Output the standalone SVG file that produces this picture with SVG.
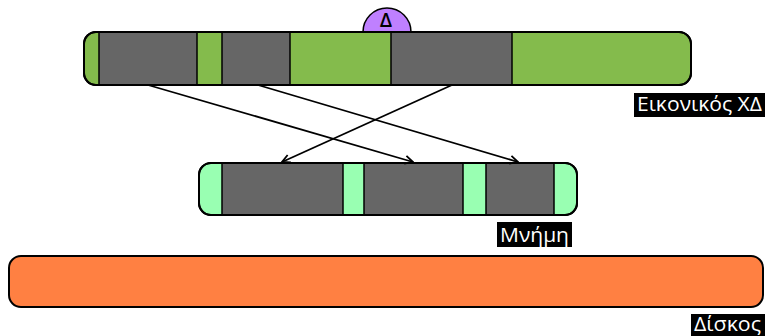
<svg xmlns="http://www.w3.org/2000/svg" width="765" height="336" viewBox="0 0 765 336">
<defs>
<style>
.bar{stroke:#000;stroke-width:2}
.seg{fill:#666666;stroke:#000;stroke-width:1.5}
.lbl{fill:#000}
.lt{fill:#fff;font-family:"Open Sans","DejaVu Sans",sans-serif;font-size:20px}
.conn{stroke:#000;stroke-width:1.8;fill:none;marker-end:url(#arr)}
</style>
<marker id="arr" viewBox="0 0 10 10" refX="9" refY="5" markerWidth="10" markerHeight="10" markerUnits="userSpaceOnUse" orient="auto">
<path d="M1,1 L9,5 L1,9" fill="none" stroke="#000" stroke-width="1.8"/>
</marker>
</defs>
<rect width="765" height="336" fill="#fff"/>
<g id="delta">
<path d="M363,32 A24,24 0 0 1 411,32 Z" fill="#BF80FF" stroke="#000" stroke-width="1.5"/>
<text x="386" y="27" text-anchor="middle" font-family="Open Sans,DejaVu Sans,sans-serif" font-size="20" font-weight="600" fill="#000">Δ</text>
</g>
<g id="virtual">
<rect class="bar" x="84" y="32" width="607" height="53" rx="12" fill="#84BB4C"/>
<rect class="seg" x="99" y="32" width="98" height="53"/>
<rect class="seg" x="222" y="32" width="68" height="53"/>
<rect class="seg" x="391" y="32" width="121" height="53"/>
<rect class="bar" x="84" y="32" width="607" height="53" rx="12" fill="none"/>
<rect class="lbl" x="634" y="93" width="131" height="24"/>
<text class="lt" x="637" y="111" textLength="125" lengthAdjust="spacingAndGlyphs">Εικονικός ΧΔ</text>
</g>
<g id="memory">
<rect class="bar" x="199" y="163" width="378" height="52" rx="12" fill="#99FFB2"/>
<rect class="seg" x="222" y="163" width="121" height="52"/>
<rect class="seg" x="364" y="163" width="99" height="52"/>
<rect class="seg" x="486" y="163" width="68" height="52"/>
<rect class="bar" x="199" y="163" width="378" height="52" rx="12" fill="none"/>
<rect class="lbl" x="497" y="222" width="75" height="25"/>
<text class="lt" x="500" y="242" textLength="69" lengthAdjust="spacingAndGlyphs">Μνήμη</text>
</g>
<g id="disk">
<rect class="bar" x="9" y="256" width="754" height="51" rx="12" fill="#FF8042"/>
<rect class="lbl" x="691" y="314" width="74" height="22"/>
<text class="lt" x="694" y="331" textLength="67" lengthAdjust="spacingAndGlyphs">Δίσκος</text>
</g>
<g id="connectors">
<line class="conn" x1="148" y1="85" x2="413" y2="162"/>
<line class="conn" x1="258" y1="85" x2="518" y2="162"/>
<line class="conn" x1="452" y1="85" x2="282" y2="162"/>
</g>
</svg>
